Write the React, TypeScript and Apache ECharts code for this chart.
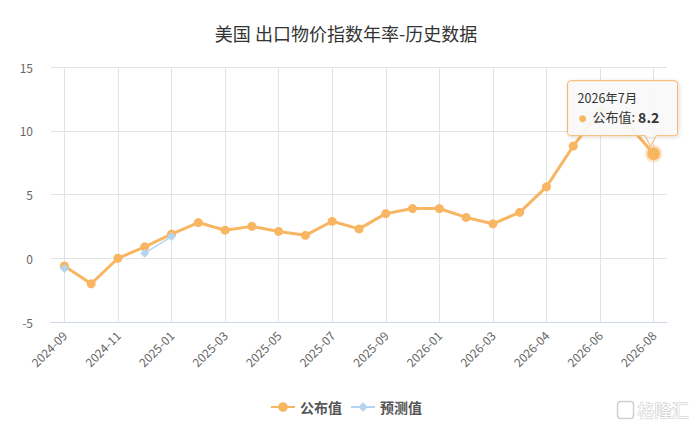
import React, { useEffect, useRef } from "react";
import * as echarts from "echarts";

const categories = [
  "2024-09", "2024-10", "2024-11", "2024-12", "2025-01", "2025-02", "2025-03",
  "2025-04", "2025-05", "2025-06", "2025-07", "2025-08", "2025-09", "2025-10",
  "2026-01", "2026-02", "2026-03", "2026-03", "2026-04", "2026-05", "2026-06",
  "2026-07", "2026-08",
];
const published = [
  -0.6, -2.0, 0.0, 0.9, 1.9, 2.8, 2.2, 2.5, 2.1, 1.8, 2.9, 2.3, 3.5, 3.9, 3.9,
  3.2, 2.7, 3.6, 5.6, 8.8, 11.6, 10.6, 8.2,
];
const forecast: (number | null)[] = [
  -0.8, null, null, 0.4, 1.7, null, null, null, null, null, null, null, null,
  null, null, null, null, null, null, null, null, null, null,
];
const yTicks = { min: -5, max: 15, interval: 5 };
const tipIndex = 22;
const tipPeriod = "2026年7月";

const ORANGE = "#f8b562";
const BLUE = "#b3d4f2";
const FONT = "'Noto Sans CJK SC', 'Noto Sans', sans-serif";

export default function App() {
  const ref = useRef<HTMLDivElement>(null);
  useEffect(() => {
    if (!ref.current) return;
    const chart = echarts.init(ref.current, undefined, { renderer: "svg" });
    const pubData = published.map((v, i) =>
      i === tipIndex
        ? {
            value: v,
            symbolSize: 13,
            itemStyle: { color: ORANGE, borderColor: "rgba(248,181,98,0.3)", borderWidth: 5 },
          }
        : v
    );
    chart.setOption({
      animation: false,
      textStyle: { fontFamily: FONT },
      title: {
        text: "美国 出口物价指数年率-历史数据",
        left: "center",
        top: 19,
        textStyle: { fontSize: 18, fontWeight: "normal", color: "#333", fontFamily: FONT },
      },
      legend: {
        bottom: 7,
        left: "center",
        itemWidth: 24,
        itemHeight: 12,
        itemGap: 8,
        textStyle: { fontSize: 14, fontWeight: "bold", color: "#555", fontFamily: FONT },
        data: ["公布值", "预测值"],
      },
      grid: { left: 51, right: 25, top: 67, bottom: 104 },
      xAxis: {
        type: "category",
        data: categories,
        boundaryGap: true,
        axisLine: { onZero: false, lineStyle: { color: "#ccd6eb" } },
        axisTick: { alignWithLabel: true, interval: 1, length: 10, lineStyle: { color: "#ccd6eb" } },
        axisLabel: { interval: 1, rotate: 45, fontSize: 12, color: "#666", margin: 11, fontFamily: FONT },
        splitLine: { show: true, interval: 1, alignWithLabel: true, lineStyle: { color: "#e3e3e3" } },
      },
      yAxis: {
        type: "value",
        min: yTicks.min,
        max: yTicks.max,
        interval: yTicks.interval,
        axisLine: { show: false },
        axisTick: { show: false },
        axisLabel: { fontSize: 12, color: "#666", margin: 18, fontFamily: FONT },
        splitLine: { lineStyle: { color: "#e3e3e3" } },
      },
      series: [
        {
          name: "公布值",
          type: "line",
          data: pubData,
          symbol: "circle",
          symbolSize: 9,
          lineStyle: { color: ORANGE, width: 3 },
          itemStyle: { color: ORANGE },
          z: 2,
        },
        {
          name: "预测值",
          type: "line",
          data: forecast,
          symbol: "diamond",
          symbolSize: 9,
          connectNulls: false,
          lineStyle: { color: BLUE, width: 1.5 },
          itemStyle: { color: BLUE },
          z: 3,
        },
      ],
    });

    const [px, py] = chart.convertToPixel({ xAxisIndex: 0, yAxisIndex: 0 }, [
      tipIndex,
      published[tipIndex],
    ]) as number[];
    const bx = px - 86;
    const by = py - 73;
    const bw = 110;
    const bh = 55;
    const Z = 100;
    chart.setOption({
      graphic: [
        {
          type: "polygon",
          z: Z,
          shape: {
            points: [
              [px - 9, by + bh - 1],
              [px + 3, by + bh - 1],
              [px - 3, py - 7],
            ],
          },
          style: { fill: "rgba(250,250,250,0.93)", stroke: ORANGE, lineWidth: 1 },
        },
        {
          type: "rect",
          z: Z,
          shape: { x: bx, y: by, width: bw, height: bh, r: 3 },
          style: {
            fill: "rgba(250,250,250,0.92)",
            stroke: ORANGE,
            lineWidth: 1,
            shadowBlur: 4,
            shadowColor: "rgba(0,0,0,0.15)",
            shadowOffsetX: 1,
            shadowOffsetY: 1,
          },
        },
        {
          type: "rect",
          z: Z + 1,
          shape: { x: px - 8, y: by + bh - 2, width: 10, height: 3 },
          style: { fill: "rgb(250,250,250)" },
        },
        {
          type: "text",
          z: Z + 2,
          x: bx + 10,
          y: by + 11,
          style: { text: tipPeriod, fontSize: 12.5, fill: "#333", fontFamily: FONT },
        },
        {
          type: "circle",
          z: Z + 2,
          shape: { cx: bx + 15, cy: by + 38, r: 3.5 },
          style: { fill: ORANGE },
        },
        {
          type: "text",
          z: Z + 2,
          x: bx + 25,
          y: by + 29,
          style: {
            rich: {
              a: { fontSize: 13, fill: "#333", fontFamily: FONT },
              b: { fontSize: 14, fontWeight: "bold", fill: "#333", fontFamily: FONT },
            },
            text: "{a|公布值: }{b|" + published[tipIndex] + "}",
          },
        },
        {
          type: "group",
          right: 3,
          bottom: 5,
          children: [
            {
              type: "rect",
              shape: { x: 0, y: 1, width: 16, height: 17, r: 3 },
              style: { fill: "none", stroke: "#cfcfcf", lineWidth: 1.5 },
            },
            {
              type: "text",
              x: 20,
              y: 0,
              style: {
                text: "格隆汇",
                fontSize: 17,
                fill: "#fff",
                stroke: "#c8c8c8",
                lineWidth: 1,
                fontFamily: FONT,
              },
            },
          ],
        },
      ],
    });

    return () => chart.dispose();
  }, []);
  return (
    <div
      ref={ref}
      style={{ position: "absolute", left: 0, top: 0, width: 692, height: 426 }}
    />
  );
}
